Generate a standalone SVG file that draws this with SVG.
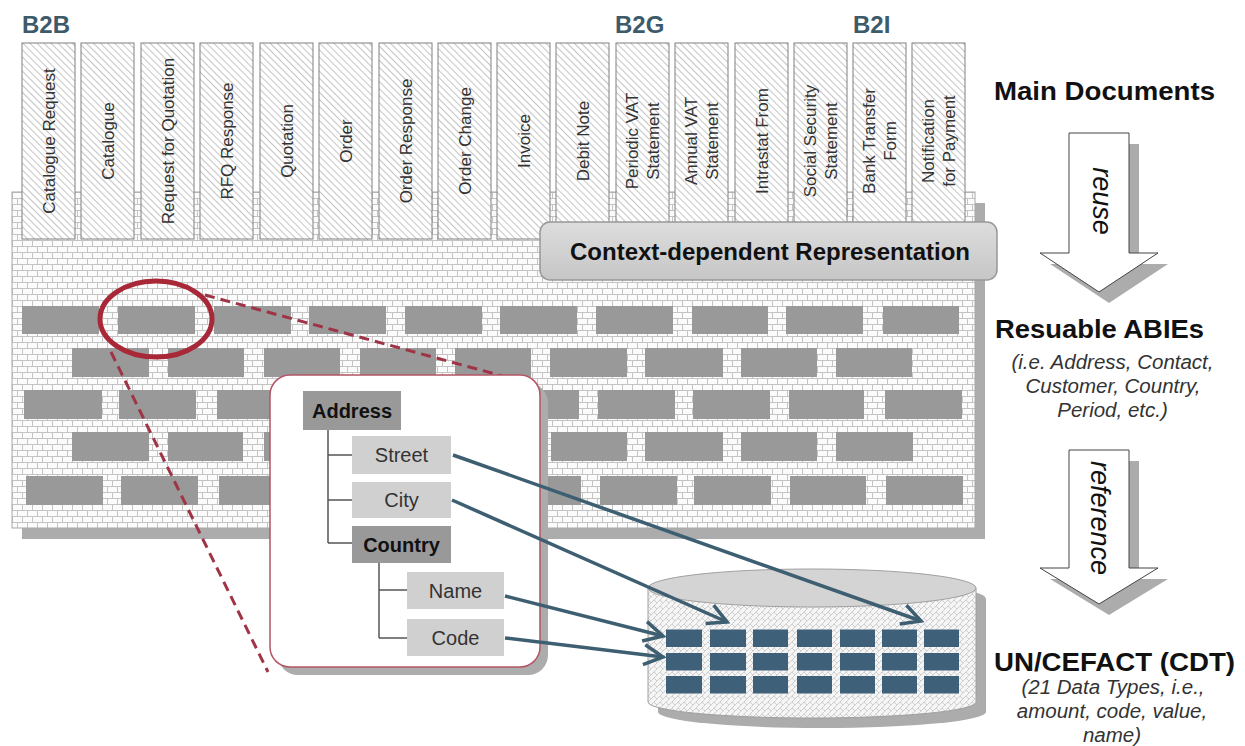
<svg xmlns="http://www.w3.org/2000/svg" width="1245" height="746" viewBox="0 0 1245 746">
<defs>
<style>
text{font-family:"Liberation Sans",Arial,sans-serif}
.doc{fill:url(#hatch);stroke:#808080;stroke-width:1}
.dt{font-size:17px;fill:#333;text-anchor:middle}
.brick{fill:#999}
.blue{fill:#3e6078}
.grp{font-size:24px;font-weight:bold;fill:#3d5a6b}
.big{font-size:25px;font-weight:bold;fill:#111}
.it{font-size:20.5px;font-style:italic;fill:#333;text-anchor:middle}
.rot{font-size:27px;font-style:italic;fill:#111;text-anchor:middle}
.nd{fill:#999}
.nl{fill:#d0d0d0}
.nt{font-size:20px;fill:#333;text-anchor:middle}
.nb{font-size:20px;font-weight:bold;fill:#111;text-anchor:middle}
.tree{stroke:#555;stroke-width:1.5;fill:none}
.link{stroke:#3e5f72;stroke-width:3.5;fill:none;marker-end:url(#chev)}
.dash{stroke:#9e3446;stroke-width:3;stroke-dasharray:10 6;fill:none}
.shadow{fill:#acacac}
.barrow{fill:#fff;stroke:#444;stroke-width:1}
</style>
<pattern id="hatch" width="5" height="5" patternUnits="userSpaceOnUse" patternTransform="rotate(-45)">
<rect width="5" height="5" fill="#fff"/>
<line x1="0.5" y1="0" x2="0.5" y2="5" stroke="#c6c6c6" stroke-width="1.1"/>
</pattern>
<pattern id="wallp" width="20" height="12" patternUnits="userSpaceOnUse" x="12" y="192">
<rect width="20" height="12" fill="#fbfbfb"/>
<path d="M0,0.5H20M0,6.5H20M0.5,0V6.5M10.5,0V6.5M5.5,6.5V12M15.5,6.5V12" stroke="#c4c4c4" stroke-width="1"/>
</pattern>
<pattern id="weave" width="6" height="6" patternUnits="userSpaceOnUse">
<rect width="6" height="6" fill="#f5f5f5"/>
<path d="M0,6L6,0M-1,1L1,-1M5,7L7,5M0,0L3,3" stroke="#c9c9c9" stroke-width="0.9"/>
</pattern>
<linearGradient id="ctxg" x1="0" y1="0" x2="0" y2="1">
<stop offset="0" stop-color="#dddddd"/>
<stop offset="1" stop-color="#c6c6c6"/>
</linearGradient>
<marker id="chev" markerUnits="userSpaceOnUse" viewBox="0 0 24 24" refX="21" refY="12" markerWidth="24" markerHeight="24" orient="auto">
<path d="M2,2 L21,12 L2,22" fill="none" stroke="#3e5f72" stroke-width="3.5" stroke-linejoin="miter"/>
</marker>
</defs>
<rect width="1245" height="746" fill="#fff"/>

<g id="groups">
<text class="grp" x="22" y="33">B2B</text>
<text class="grp" x="615" y="33">B2G</text>
<text class="grp" x="853" y="33">B2I</text>
</g>

<g id="wall">
<rect class="shadow" x="22" y="203" width="963" height="336"/>
<rect x="12" y="192" width="963" height="336" fill="url(#wallp)" stroke="#a8a8a8" stroke-width="1"/>
<g id="bricks">
<rect class="brick" x="22" y="306" width="77" height="28"/><rect class="brick" x="118" y="306" width="77" height="28"/><rect class="brick" x="214" y="306" width="77" height="28"/><rect class="brick" x="309" y="306" width="77" height="28"/><rect class="brick" x="405" y="306" width="77" height="28"/><rect class="brick" x="500" y="306" width="77" height="28"/><rect class="brick" x="596" y="306" width="77" height="28"/><rect class="brick" x="692" y="306" width="76" height="28"/><rect class="brick" x="786" y="306" width="77" height="28"/><rect class="brick" x="883" y="306" width="76" height="28"/>
<rect class="brick" x="72" y="348" width="77" height="29"/><rect class="brick" x="168" y="348" width="76" height="29"/><rect class="brick" x="264" y="348" width="76" height="29"/><rect class="brick" x="360" y="348" width="76" height="29"/><rect class="brick" x="455" y="348" width="76" height="29"/><rect class="brick" x="550" y="348" width="77" height="29"/><rect class="brick" x="645" y="348" width="78" height="29"/><rect class="brick" x="741" y="348" width="76" height="29"/><rect class="brick" x="836" y="348" width="76" height="29"/>
<rect class="brick" x="24" y="390" width="78" height="29"/><rect class="brick" x="119" y="390" width="77" height="29"/><rect class="brick" x="217" y="390" width="77" height="29"/><rect class="brick" x="312" y="390" width="77" height="29"/><rect class="brick" x="407" y="390" width="77" height="29"/><rect class="brick" x="502" y="390" width="77" height="29"/><rect class="brick" x="598" y="390" width="77" height="29"/><rect class="brick" x="693" y="390" width="77" height="29"/><rect class="brick" x="789" y="390" width="75" height="29"/><rect class="brick" x="885" y="390" width="77" height="29"/>
<rect class="brick" x="72" y="432" width="77" height="29"/><rect class="brick" x="168" y="432" width="75" height="29"/><rect class="brick" x="264" y="432" width="76" height="29"/><rect class="brick" x="360" y="432" width="76" height="29"/><rect class="brick" x="455" y="432" width="76" height="29"/><rect class="brick" x="551" y="432" width="76" height="29"/><rect class="brick" x="645" y="432" width="78" height="29"/><rect class="brick" x="741" y="432" width="76" height="29"/><rect class="brick" x="836" y="432" width="77" height="29"/>
<rect class="brick" x="26" y="476" width="77" height="29"/><rect class="brick" x="121" y="476" width="77" height="29"/><rect class="brick" x="219" y="476" width="77" height="29"/><rect class="brick" x="314" y="476" width="77" height="29"/><rect class="brick" x="409" y="476" width="77" height="29"/><rect class="brick" x="504" y="476" width="77" height="29"/><rect class="brick" x="600" y="476" width="77" height="29"/><rect class="brick" x="694" y="476" width="77" height="29"/><rect class="brick" x="790" y="476" width="76" height="29"/><rect class="brick" x="886" y="476" width="77" height="29"/>
</g>
</g>

<g id="documents">
<g id="doc-catalogue-request"><rect class="doc" x="22" y="43" width="53" height="196"/><text class="dt" transform="translate(54.5,141) rotate(-90)">Catalogue Request</text></g>
<g id="doc-catalogue"><rect class="doc" x="81" y="43" width="53" height="196"/><text class="dt" transform="translate(113.5,141) rotate(-90)">Catalogue</text></g>
<g id="doc-rfq"><rect class="doc" x="141" y="43" width="53" height="196"/><text class="dt" transform="translate(173.5,141) rotate(-90)">Request for Quotation</text></g>
<g id="doc-rfq-response"><rect class="doc" x="200" y="43" width="53" height="196"/><text class="dt" transform="translate(232.5,141) rotate(-90)">RFQ Response</text></g>
<g id="doc-quotation"><rect class="doc" x="260" y="43" width="53" height="196"/><text class="dt" transform="translate(292.5,141) rotate(-90)">Quotation</text></g>
<g id="doc-order"><rect class="doc" x="319" y="43" width="53" height="196"/><text class="dt" transform="translate(351.5,141) rotate(-90)">Order</text></g>
<g id="doc-order-response"><rect class="doc" x="379" y="43" width="53" height="196"/><text class="dt" transform="translate(411.5,141) rotate(-90)">Order Response</text></g>
<g id="doc-order-change"><rect class="doc" x="438" y="43" width="53" height="196"/><text class="dt" transform="translate(470.5,141) rotate(-90)">Order Change</text></g>
<g id="doc-invoice"><rect class="doc" x="497" y="43" width="53" height="196"/><text class="dt" transform="translate(529.5,141) rotate(-90)">Invoice</text></g>
<g id="doc-debit-note"><rect class="doc" x="556" y="43" width="53" height="196"/><text class="dt" transform="translate(588.5,141) rotate(-90)">Debit Note</text></g>
<g id="doc-periodic-vat"><rect class="doc" x="616" y="43" width="53" height="196"/><text class="dt" transform="translate(638,141) rotate(-90)"><tspan x="0">Periodic VAT</tspan><tspan x="0" dy="21">Statement</tspan></text></g>
<g id="doc-annual-vat"><rect class="doc" x="675" y="43" width="53" height="196"/><text class="dt" transform="translate(697,141) rotate(-90)"><tspan x="0">Annual VAT</tspan><tspan x="0" dy="21">Statement</tspan></text></g>
<g id="doc-intrastat"><rect class="doc" x="735" y="43" width="53" height="196"/><text class="dt" transform="translate(767.5,141) rotate(-90)">Intrastat From</text></g>
<g id="doc-social-security"><rect class="doc" x="794" y="43" width="53" height="196"/><text class="dt" transform="translate(816,141) rotate(-90)"><tspan x="0">Social Security</tspan><tspan x="0" dy="21">Statement</tspan></text></g>
<g id="doc-bank-transfer"><rect class="doc" x="853" y="43" width="53" height="196"/><text class="dt" transform="translate(875,141) rotate(-90)"><tspan x="0">Bank Transfer</tspan><tspan x="0" dy="21">Form</tspan></text></g>
<g id="doc-notification"><rect class="doc" x="912" y="43" width="53" height="196"/><text class="dt" transform="translate(934,141) rotate(-90)"><tspan x="0">Notification</tspan><tspan x="0" dy="21">for Payment</tspan></text></g>
</g>

<g id="context-box">
<rect x="540" y="222" width="457" height="58" rx="10" fill="url(#ctxg)" stroke="#989898" stroke-width="1.5"/>
<text x="770" y="260" font-size="24" font-weight="bold" fill="#111" text-anchor="middle">Context-dependent Representation</text>
</g>

<g id="zoom-marker">
<ellipse cx="156" cy="319" rx="56" ry="38" fill="none" stroke="#a82838" stroke-width="5"/>
</g>

<g id="connectors">
<path class="dash" d="M205,295 L532,384"/>
<path class="dash" d="M111,352 L268,672"/>
</g>

<g id="callout">
<rect class="shadow" x="278" y="383" width="270" height="292" rx="20"/>
<rect x="270" y="375" width="270" height="292" rx="20" fill="#fff" stroke="#b35565" stroke-width="1.5"/>
</g>

<g id="tree-lines">
<path class="tree" d="M328,430V543M328,455H352M328,500H352M328,543H352M379,563V638M379,590H407M379,638H407"/>
</g>

<g id="node-address"><rect class="nd" x="303" y="391" width="98" height="39"/><text class="nb" x="352" y="418">Address</text></g>
<g id="node-street"><rect class="nl" x="352" y="436" width="99" height="38"/><text class="nt" x="401.5" y="462">Street</text></g>
<g id="node-city"><rect class="nl" x="352" y="482" width="99" height="36"/><text class="nt" x="401.5" y="507">City</text></g>
<g id="node-country"><rect class="nd" x="352" y="526" width="99" height="37"/><text class="nb" x="401.5" y="552">Country</text></g>
<g id="node-name"><rect class="nl" x="407" y="572" width="97" height="37"/><text class="nt" x="455.5" y="598">Name</text></g>
<g id="node-code"><rect class="nl" x="407" y="619" width="97" height="37"/><text class="nt" x="455.5" y="645">Code</text></g>

<g id="cdt-cylinder">
<path class="shadow" d="M658,599 L658,712 A164,16 0 0 0 986,712 L986,599 A164,19 0 0 0 658,599 Z"/>
<path d="M648,588 L648,702 A164,16 0 0 0 976,702 L976,588 Z" fill="url(#weave)" stroke="#a0a0a0" stroke-width="1"/>
<ellipse cx="812" cy="588" rx="164" ry="19" fill="#d4d4d4" stroke="#a0a0a0" stroke-width="1"/>
<rect class="blue" x="666" y="629.5" width="36" height="17.5"/><rect class="blue" x="710" y="629.5" width="36" height="17.5"/><rect class="blue" x="753" y="629.5" width="35" height="17.5"/><rect class="blue" x="797" y="629.5" width="35" height="17.5"/><rect class="blue" x="840" y="629.5" width="35" height="17.5"/><rect class="blue" x="882" y="629.5" width="35" height="17.5"/><rect class="blue" x="924" y="629.5" width="35" height="17.5"/>
<rect class="blue" x="666" y="653" width="36" height="17.5"/><rect class="blue" x="710" y="653" width="36" height="17.5"/><rect class="blue" x="753" y="653" width="35" height="17.5"/><rect class="blue" x="797" y="653" width="35" height="17.5"/><rect class="blue" x="840" y="653" width="35" height="17.5"/><rect class="blue" x="882" y="653" width="35" height="17.5"/><rect class="blue" x="924" y="653" width="35" height="17.5"/>
<rect class="blue" x="666" y="676" width="36" height="17.5"/><rect class="blue" x="710" y="676" width="36" height="17.5"/><rect class="blue" x="753" y="676" width="35" height="17.5"/><rect class="blue" x="797" y="676" width="35" height="17.5"/><rect class="blue" x="840" y="676" width="35" height="17.5"/><rect class="blue" x="882" y="676" width="35" height="17.5"/><rect class="blue" x="924" y="676" width="35" height="17.5"/>
</g>

<g id="links">
<path class="link" d="M453,455 L921,621"/>
<path class="link" d="M452,500 L727,622"/>
<path class="link" d="M505,596 L663,636"/>
<path class="link" d="M505,638 L663,657"/>
</g>

<g id="layer-labels">
<text class="big" x="994" y="100" textLength="221" lengthAdjust="spacingAndGlyphs">Main Documents</text>
<text class="big" x="995" y="338" textLength="209" lengthAdjust="spacingAndGlyphs">Resuable ABIEs</text>
<text class="it" x="1112.5" y="369">(i.e. Address, Contact,</text>
<text class="it" x="1113" y="393">Customer, Country,</text>
<text class="it" x="1112.5" y="417">Period, etc.)</text>
<text class="big" x="994" y="671" textLength="241" lengthAdjust="spacingAndGlyphs">UN/CEFACT (CDT)</text>
<text class="it" x="1113" y="694">(21 Data Types, i.e.,</text>
<text class="it" x="1112" y="718">amount, code, value,</text>
<text class="it" x="1112" y="742">name)</text>
</g>

<g id="arrow-reuse">
<polygon class="shadow" transform="translate(10,11)" points="1069,133 1129,133 1129,253 1158,253 1099,292 1040,253 1069,253"/>
<polygon class="barrow" points="1069,133 1129,133 1129,253 1158,253 1099,292 1040,253 1069,253"/>
<text class="rot" transform="translate(1093,201) rotate(90)">reuse</text>
</g>
<g id="arrow-reference">
<polygon class="shadow" transform="translate(10,11)" points="1069,450 1129,450 1129,568 1158,568 1099,604 1040,568 1069,568"/>
<polygon class="barrow" points="1069,450 1129,450 1129,568 1158,568 1099,604 1040,568 1069,568"/>
<text class="rot" transform="translate(1091,518) rotate(90)">reference</text>
</g>
</svg>
